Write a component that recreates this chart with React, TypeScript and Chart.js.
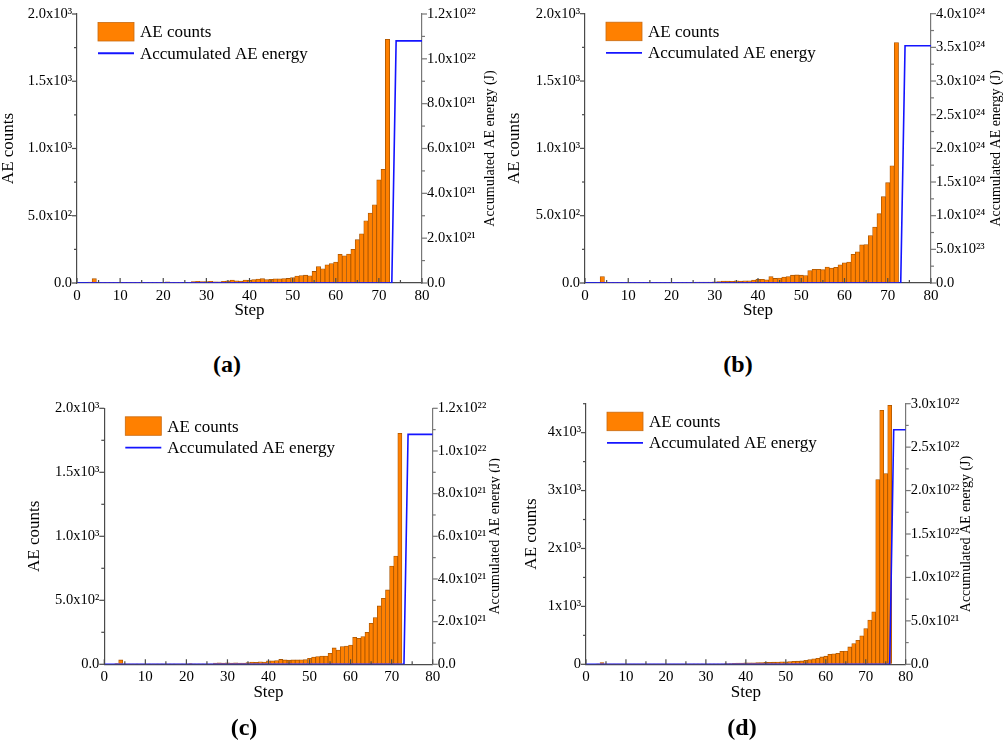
import React, { useEffect, useRef } from 'react';
import { Chart, registerables } from 'chart.js';

Chart.register(...registerables);

const FONT = '"Liberation Serif", "Times New Roman", serif';
Chart.defaults.font.family = FONT;

// ---------- data ----------
const countsA = [
  0, 0, 0, 6, 32, 2, 1, 1, 2, 1,
  1, 2, 1, 3, 2, 1, 2, 2, 1, 2,
  3, 8, 2, 3, 2, 4, 3, 10, 13, 10,
  11, 13, 9, 8, 12, 16, 22, 16, 15, 22,
  20, 26, 30, 32, 26, 28, 31, 31, 33, 34,
  40, 52, 56, 58, 54, 86, 122, 106, 135, 144,
  156, 213, 202, 215, 250, 322, 366, 463, 520, 582,
  767, 846, 1812,
];
const countsB = [
  0, 0, 0, 4, 48, 2, 1, 1, 2, 1,
  1, 2, 1, 2, 1, 2, 1, 2, 2, 1,
  2, 3, 2, 2, 3, 3, 6, 7, 7, 7,
  8, 10, 15, 15, 12, 17, 15, 17, 17, 22,
  27, 27, 24, 48, 34, 36, 44, 48, 58, 60,
  58, 56, 92, 102, 102, 99, 119, 111, 116, 135,
  150, 155, 213, 232, 283, 286, 353, 416, 515, 641,
  745, 871, 1786,
];
const countsC = [
  0, 0, 0, 6, 34, 2, 1, 1, 2, 1,
  1, 2, 1, 2, 2, 1, 2, 2, 1, 2,
  3, 6, 2, 3, 2, 3, 3, 9, 12, 10,
  11, 10, 12, 10, 10, 14, 18, 16, 20, 18,
  27, 27, 29, 38, 34, 32, 34, 34, 35, 36,
  47, 57, 60, 65, 65, 86, 128, 112, 138, 143,
  151, 211, 203, 216, 250, 320, 365, 456, 516, 581,
  768, 846, 1805,
];
const countsD = [
  0, 0, 0, 8, 30, 2, 1, 1, 2, 1,
  1, 2, 1, 2, 1, 2, 1, 2, 2, 1,
  2, 2, 2, 3, 2, 3, 3, 4, 4, 5,
  6, 6, 8, 8, 10, 13, 14, 18, 19, 20,
  24, 25, 26, 28, 30, 34, 35, 37, 40, 42,
  44, 46, 50, 54, 58, 70, 80, 95, 105, 127,
  140, 173, 180, 191, 226, 228, 300, 358, 416, 491,
  618, 763, 907, 3191, 4387, 3295, 4474,
];

const energyStepsA = [0, 73, 74, 80];
const energyA = [0, 0, 1.08e22, 1.08e22];
const energyStepsB = [0, 73, 74, 80];
const energyB = [0, 0, 3.525e24, 3.525e24];
const energyStepsC = [0, 73, 74, 80];
const energyC = [0, 0, 1.078e22, 1.078e22];
const energyStepsD = [0, 76, 77, 80];
const energyD = [0, 0, 2.7e22, 2.7e22];

const xTickValues = [0, 10, 20, 30, 40, 50, 60, 70, 80];
const xTickLabels = ['0', '10', '20', '30', '40', '50', '60', '70', '80'];

const leftTicksABC = [0, 500, 1000, 1500, 2000];
const leftLabelsABC = ['0.0', '5.0x10²', '1.0x10³', '1.5x10³', '2.0x10³'];
const leftTicksD = [0, 1000, 2000, 3000, 4000];
const leftLabelsD = ['0', '1x10³', '2x10³', '3x10³', '4x10³'];

const rightTicksAC = [0, 2e21, 4e21, 6e21, 8e21, 1e22, 1.2e22];
const rightLabelsAC = ['0.0', '2.0x10²¹', '4.0x10²¹', '6.0x10²¹', '8.0x10²¹', '1.0x10²²', '1.2x10²²'];
const rightTicksB = [0, 5e23, 1e24, 1.5e24, 2e24, 2.5e24, 3e24, 3.5e24, 4e24];
const rightLabelsB = ['0.0', '5.0x10²³', '1.0x10²⁴', '1.5x10²⁴', '2.0x10²⁴', '2.5x10²⁴', '3.0x10²⁴', '3.5x10²⁴', '4.0x10²⁴'];
const rightTicksD = [0, 5e21, 1e22, 1.5e22, 2e22, 2.5e22, 3e22];
const rightLabelsD = ['0.0', '5.0x10²¹', '1.0x10²²', '1.5x10²²', '2.0x10²²', '2.5x10²²', '3.0x10²²'];

const seriesLabelCounts = 'AE counts';
const seriesLabelEnergy = 'Accumulated AE energy';
const titleLeft = 'AE counts';
const titleRight = 'Accumulated AE energy (J)';
const titleX = 'Step';

// ---------- layout ----------
const BAR_FILL = '#ff8000';
const BAR_EDGE = '#a85400';
const LINE_BLUE = '#1414ff';
const AXIS_LEFT = '#4a4a4a';
const AXIS_RIGHT = '#777777';

type PanelCfg = {
  key: string;
  label: string;
  canvas: { left: number; top: number; w: number; h: number };
  area: { l: number; t: number; r: number; b: number };
  leftTitleX: number;
  rightTitleX: number;
  labelPos: { x: number; y: number };
  counts: number[];
  eSteps: number[];
  energy: number[];
  leftMax: number;
  leftTicks: number[];
  leftLabels: string[];
  rightMax: number;
  rightTicks: number[];
  rightLabels: string[];
};

const panels: PanelCfg[] = [
  {
    key: 'a', label: '(a)',
    canvas: { left: 0, top: 0, w: 500, h: 340 },
    area: { l: 77, t: 14, r: 422, b: 283 },
    leftTitleX: 8.5, rightTitleX: 490, labelPos: { x: 227, y: 364 },
    counts: countsA, eSteps: energyStepsA, energy: energyA,
    leftMax: 2000, leftTicks: leftTicksABC, leftLabels: leftLabelsABC,
    rightMax: 1.2e22, rightTicks: rightTicksAC, rightLabels: rightLabelsAC,
  },
  {
    key: 'b', label: '(b)',
    canvas: { left: 500, top: 0, w: 503, h: 340 },
    area: { l: 585, t: 8.5, r: 931, b: 283 },
    leftTitleX: 515, rightTitleX: 996.5, labelPos: { x: 738, y: 364 },
    counts: countsB, eSteps: energyStepsB, energy: energyB,
    leftMax: 2000, leftTicks: leftTicksABC, leftLabels: leftLabelsABC,
    rightMax: 4e24, rightTicks: rightTicksB, rightLabels: rightLabelsB,
  },
  {
    key: 'c', label: '(c)',
    canvas: { left: 0, top: 390, w: 500, h: 353 },
    area: { l: 104.3, t: 408.3, r: 432.7, b: 664.3 },
    leftTitleX: 35, rightTitleX: 495.5, labelPos: { x: 244, y: 727 },
    counts: countsC, eSteps: energyStepsC, energy: energyC,
    leftMax: 2000, leftTicks: leftTicksABC, leftLabels: leftLabelsABC,
    rightMax: 1.2e22, rightTicks: rightTicksAC, rightLabels: rightLabelsAC,
  },
  {
    key: 'd', label: '(d)',
    canvas: { left: 500, top: 390, w: 503, h: 353 },
    area: { l: 586, t: 403.3, r: 905.7, b: 664.3 },
    leftTitleX: 532, rightTitleX: 966, labelPos: { x: 742, y: 727 },
    counts: countsD, eSteps: energyStepsD, energy: energyD,
    leftMax: 4500, leftTicks: leftTicksD, leftLabels: leftLabelsD,
    rightMax: 3e22, rightTicks: rightTicksD, rightLabels: rightLabelsD,
  },
];

function labelFor(values: number[], labels: string[], v: number) {
  const i = values.indexOf(v);
  return i >= 0 ? labels[i] : '';
}

function makeDecor(p: PanelCfg) {
  return {
    id: 'decor_' + p.key,
    afterDraw(chart: any) {
      const { ctx, chartArea: ca } = chart;
      const sx = chart.scales.x;
      const sy = chart.scales.y;
      const sy2 = chart.scales.y2;
      ctx.save();
      const line = (x1: number, y1: number, x2: number, y2: number) => {
        ctx.beginPath();
        ctx.moveTo(x1, y1);
        ctx.lineTo(x2, y2);
        ctx.stroke();
      };
      ctx.lineWidth = 1.2;
      // left ticks (outward)
      ctx.strokeStyle = AXIS_LEFT;
      p.leftTicks.forEach((v, i) => {
        const py = sy.getPixelForValue(v);
        line(ca.left, py, ca.left - 5, py);
        if (i < p.leftTicks.length - 1) {
          const pm = sy.getPixelForValue((v + p.leftTicks[i + 1]) / 2);
          line(ca.left, pm, ca.left - 3, pm);
        }
      });
      if (p.leftMax > p.leftTicks[p.leftTicks.length - 1]) {
        const last = p.leftTicks[p.leftTicks.length - 1];
        const step = last - p.leftTicks[p.leftTicks.length - 2];
        const pm = sy.getPixelForValue(last + step / 2);
        line(ca.left, pm, ca.left - 3, pm);
      }
      // x ticks (inward)
      xTickValues.forEach((v, i) => {
        const px = sx.getPixelForValue(v);
        line(px, ca.bottom, px, ca.bottom - 5);
        if (i < xTickValues.length - 1) {
          const pm = sx.getPixelForValue((v + xTickValues[i + 1]) / 2);
          line(pm, ca.bottom, pm, ca.bottom - 3);
        }
      });
      // right ticks (outward)
      ctx.strokeStyle = AXIS_RIGHT;
      p.rightTicks.forEach((v, i) => {
        const py = sy2.getPixelForValue(v);
        line(ca.right, py, ca.right + 5, py);
        if (i < p.rightTicks.length - 1) {
          const pm = sy2.getPixelForValue((v + p.rightTicks[i + 1]) / 2);
          line(ca.right, pm, ca.right + 3, pm);
        }
      });

      // legend
      const ds = chart.data.datasets;
      const bx = ca.left + 21;
      const by = ca.top + 8.5;
      const bw = 36;
      const bh = 18.5;
      ctx.fillStyle = BAR_FILL;
      ctx.fillRect(bx, by, bw, bh);
      ctx.strokeStyle = '#c86a10';
      ctx.lineWidth = 0.8;
      ctx.strokeRect(bx, by, bw, bh);
      ctx.fillStyle = '#000';
      ctx.font = '17px ' + FONT;
      ctx.textAlign = 'left';
      ctx.textBaseline = 'middle';
      const cy1 = by + bh / 2;
      ctx.fillText(ds[1].label, bx + bw + 6, cy1 + 1);
      const cy2 = cy1 + 21.5;
      ctx.strokeStyle = LINE_BLUE;
      ctx.lineWidth = 1.8;
      line(bx, cy2, bx + bw, cy2);
      ctx.fillText(ds[0].label, bx + bw + 6, cy2 + 1);

      // titles
      const midY = (ca.top + ca.bottom) / 2;
      ctx.fillStyle = '#000';
      ctx.textAlign = 'center';
      ctx.textBaseline = 'middle';
      ctx.font = '17px ' + FONT;
      ctx.save();
      ctx.translate(p.leftTitleX - p.canvas.left, midY);
      ctx.rotate(-Math.PI / 2);
      ctx.fillText(titleLeft, 0, 0);
      ctx.restore();
      ctx.save();
      ctx.font = '14px ' + FONT;
      ctx.translate(p.rightTitleX - p.canvas.left, midY);
      ctx.rotate(-Math.PI / 2);
      ctx.fillText(titleRight, 0, 0);
      ctx.restore();
      ctx.fillText(titleX, (ca.left + ca.right) / 2, ca.bottom + 28);
      ctx.restore();
    },
  };
}

function Panel({ p }: { p: PanelCfg }) {
  const ref = useRef<HTMLCanvasElement>(null);
  useEffect(() => {
    if (!ref.current) return;
    const c = p.canvas;
    const leftW = p.area.l - c.left;
    const rightW = c.left + c.w - p.area.r;
    const topPad = p.area.t - c.top;
    const xH = c.top + c.h - p.area.b;
    const tickFont = { family: FONT, size: 14.5 };
    const chart = new Chart(ref.current, {
      type: 'bar',
      data: {
        datasets: [
          {
            type: 'line',
            label: seriesLabelEnergy,
            data: p.eSteps.map((x, i) => ({ x, y: p.energy[i] })),
            xAxisID: 'x',
            yAxisID: 'y2',
            borderColor: LINE_BLUE,
            borderWidth: 1.6,
            pointRadius: 0,
            tension: 0,
            fill: false,
          } as any,
          {
            type: 'bar',
            label: seriesLabelCounts,
            data: p.counts.map((y, i) => ({ x: i, y })),
            xAxisID: 'x',
            yAxisID: 'y',
            backgroundColor: BAR_FILL,
            borderColor: BAR_EDGE,
            borderWidth: 0.8,
            barPercentage: 1,
            categoryPercentage: 1,
          } as any,
        ],
      },
      options: {
        animation: false,
        responsive: false,
        maintainAspectRatio: false,
        layout: { padding: { left: 0, right: 0, top: topPad, bottom: 0 } },
        plugins: { legend: { display: false }, tooltip: { enabled: false } },
        scales: {
          x: {
            type: 'linear',
            position: 'bottom',
            min: 0,
            max: 80,
            offset: false,
            grid: { display: true, drawOnChartArea: false, drawTicks: false, offset: false },
            border: { display: true, color: AXIS_LEFT, width: 1.2 },
            ticks: {
              padding: 4,
              font: { family: FONT, size: 15 },
              color: '#000',
              maxRotation: 0,
              autoSkip: false,
              callback: (v: any) => labelFor(xTickValues, xTickLabels, Number(v)),
            },
            afterBuildTicks: (s: any) => {
              s.ticks = xTickValues.map((v) => ({ value: v }));
            },
            afterFit: (s: any) => {
              s.height = xH;
            },
          },
          y: {
            type: 'linear',
            position: 'left',
            min: 0,
            max: p.leftMax,
            grid: { display: true, drawOnChartArea: false, drawTicks: false },
            border: { display: true, color: AXIS_LEFT, width: 1.2 },
            ticks: {
              padding: 5,
              font: tickFont,
              color: '#000',
              callback: (v: any) => labelFor(p.leftTicks, p.leftLabels, Number(v)),
            },
            afterBuildTicks: (s: any) => {
              s.ticks = p.leftTicks.map((v) => ({ value: v }));
            },
            afterFit: (s: any) => {
              s.width = leftW;
            },
          },
          y2: {
            type: 'linear',
            position: 'right',
            min: 0,
            max: p.rightMax,
            grid: { display: true, drawOnChartArea: false, drawTicks: false },
            border: { display: true, color: AXIS_RIGHT, width: 1.2 },
            ticks: {
              padding: 5,
              font: tickFont,
              color: '#000',
              callback: (v: any) => labelFor(p.rightTicks, p.rightLabels, Number(v)),
            },
            afterBuildTicks: (s: any) => {
              s.ticks = p.rightTicks.map((v) => ({ value: v }));
            },
            afterFit: (s: any) => {
              s.width = rightW;
            },
          },
        },
      } as any,
      plugins: [makeDecor(p)],
    });
    return () => chart.destroy();
  }, [p]);
  return (
    <canvas
      ref={ref}
      width={p.canvas.w}
      height={p.canvas.h}
      style={{
        position: 'absolute',
        left: p.canvas.left,
        top: p.canvas.top,
        width: p.canvas.w,
        height: p.canvas.h,
      }}
    />
  );
}

export default function App() {
  return (
    <div
      style={{
        position: 'fixed',
        left: 0,
        top: 0,
        width: 1003,
        height: 743,
        background: '#fff',
        overflow: 'hidden',
      }}
    >
      {panels.map((p) => (
        <Panel key={p.key} p={p} />
      ))}
      {panels.map((p) => (
        <div
          key={'lbl' + p.key}
          style={{
            position: 'absolute',
            left: p.labelPos.x,
            top: p.labelPos.y,
            transform: 'translate(-50%, -50%)',
            fontFamily: FONT,
            fontWeight: 'bold',
            fontSize: 24,
            lineHeight: 1,
            color: '#000',
            whiteSpace: 'nowrap',
          }}
        >
          {p.label}
        </div>
      ))}
    </div>
  );
}
